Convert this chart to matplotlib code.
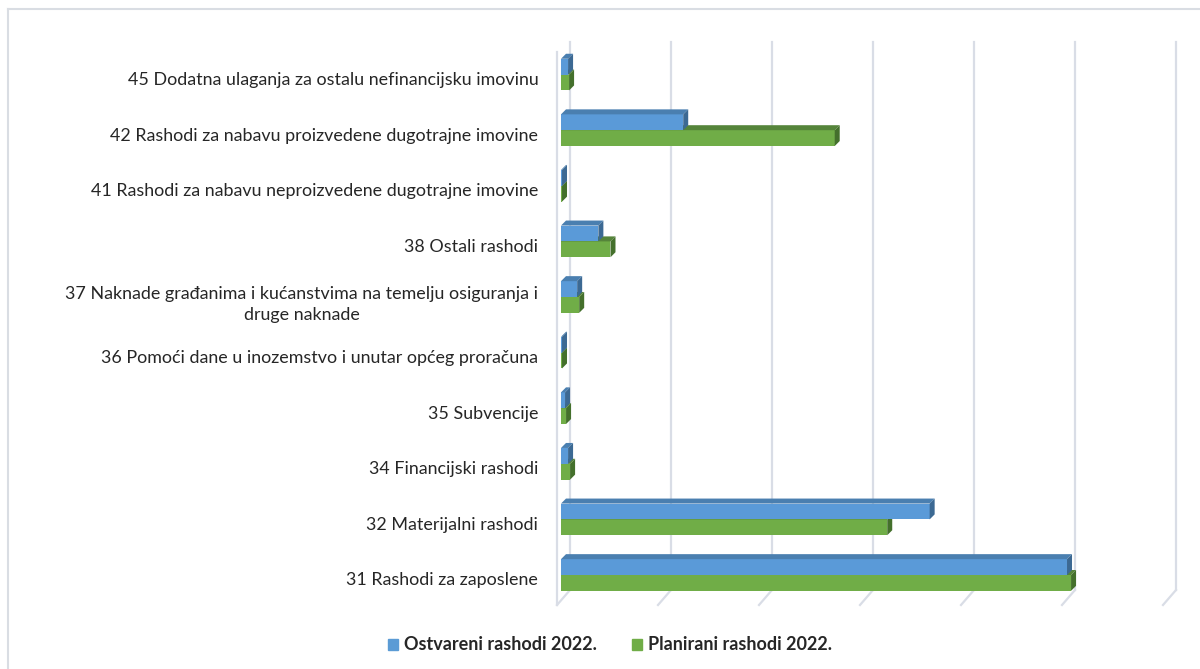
import matplotlib
matplotlib.use("Agg")
import matplotlib.pyplot as plt
import matplotlib.transforms as mtransforms
from matplotlib.patches import Polygon, Patch
from matplotlib.lines import Line2D
import numpy as np

plt.rcParams['font.family'] = ['Lato', 'DejaVu Sans']

# categories, bottom to top
categories = [
    '31 Rashodi za zaposlene',
    '32 Materijalni rashodi',
    '34 Financijski rashodi',
    '35 Subvencije',
    '36 Pomoći dane u inozemstvo i unutar općeg proračuna',
    '37 Naknade građanima i kućanstvima na temelju osiguranja i\ndruge naknade',
    '38 Ostali rashodi',
    '41 Rashodi za nabavu neproizvedene dugotrajne imovine',
    '42 Rashodi za nabavu proizvedene dugotrajne imovine',
    '45 Dodatna ulaganja za ostalu nefinancijsku imovinu',
]
# values in millions (no axis labels shown)
ostvareni = [5.01, 3.65, 0.07, 0.04, 0.01, 0.16, 0.37, 0.01, 1.21, 0.07]
planirani = [5.05, 3.23, 0.09, 0.05, 0.01, 0.18, 0.49, 0.01, 2.71, 0.08]
series_names = ['Ostvareni rashodi 2022.', 'Planirani rashodi 2022.']

# colours: front, top, side
blue = ('#5a9ad8', '#4a7fb0', '#3c6993')
green = ('#70ad47', '#55843a', '#44702c')

W, H = 1200, 669
fig = plt.figure(figsize=(W / 100, H / 100), dpi=100)

# axes placed so that x=0 sits at px 561, one unit = 101 px
left_px, right_px, top_px, bot_px = 548, 1195, 35, 615
ax = fig.add_axes([left_px / W, 1 - bot_px / H, (right_px - left_px) / W, (bot_px - top_px) / H])
ax.set_xlim((left_px - 561) / 101, (right_px - 561) / 101)
ax.set_ylim((575 - bot_px) / 55.6, (575 - top_px) / 55.6)
for s in ax.spines.values():
    s.set_visible(False)

dx = 5 / 101      # bar depth in x units
dy = 5 / 55.6     # bar depth in y units
bh = 0.285        # bar height

# walls / gridlines (perspective)
gcol = '#d9dde6'
back_x = 9 / 101
floor_back = (575 - 590) / 55.6
floor_front = (575 - 605) / 55.6
wall_top = (575 - 42) / 55.6
for i in range(7):
    ax.plot([i + back_x, i + back_x], [floor_back, wall_top], color=gcol, lw=1.6, zorder=0)
    ax.plot([i - 4 / 101, i + back_x], [floor_front, floor_back], color=gcol, lw=1.6, zorder=0)
ax.plot([-4 / 101, -4 / 101], [floor_front, (575 - 52) / 55.6], color=gcol, lw=1.6, zorder=0)

y = np.arange(len(categories))


def bar3d(yb, v, cols):
    front, top, side = cols
    yt = yb + bh
    ax.barh(yb, v, height=bh, align='edge', color=front, edgecolor='none', zorder=2)
    ax.add_patch(Polygon([(0, yt), (v, yt), (v + dx, yt + dy), (dx, yt + dy)],
                         closed=True, facecolor=top, edgecolor='none', zorder=2))
    ax.add_patch(Polygon([(v, yb), (v + dx, yb + dy), (v + dx, yt + dy), (v, yt)],
                         closed=True, facecolor=side, edgecolor='none', zorder=2))


for yi, v in zip(y, planirani):
    bar3d(yi - bh, v, green)
for yi, v in zip(y, ostvareni):
    bar3d(yi, v, blue)

ax.set_yticks(y)
ax.set_yticklabels(categories, fontsize=12.9, color='#262626', multialignment='center',
                   linespacing=1.35)
ax.tick_params(axis='y', length=0, pad=7)
ax.set_xticks([])
shift = mtransforms.ScaledTranslation(0, -4 / 100, fig.dpi_scale_trans)
for lab in ax.get_yticklabels():
    lab.set_transform(lab.get_transform() + shift)

# legend
handles = [Patch(color='#5b9bd5'), Patch(color='#70ad47')]
leg = fig.legend(handles, series_names, loc='center', ncol=2, frameon=False,
                 bbox_to_anchor=(610 / W, 1 - 645 / H), handlelength=0.55, handleheight=0.55,
                 handletextpad=0.35, columnspacing=1.9, prop={'weight': 'bold', 'size': 13})
for t in leg.get_texts():
    t.set_color('#262626')

# chart area frame (top and left edges visible)
fig.add_artist(Line2D([7.5 / W, 1], [1 - 8.5 / H, 1 - 8.5 / H], color='#d9dde3', lw=1.5))
fig.add_artist(Line2D([7.5 / W, 7.5 / W], [0, 1 - 8.5 / H], color='#d9dde3', lw=1.5))

fig.savefig('out.png', dpi=100, facecolor='white')
